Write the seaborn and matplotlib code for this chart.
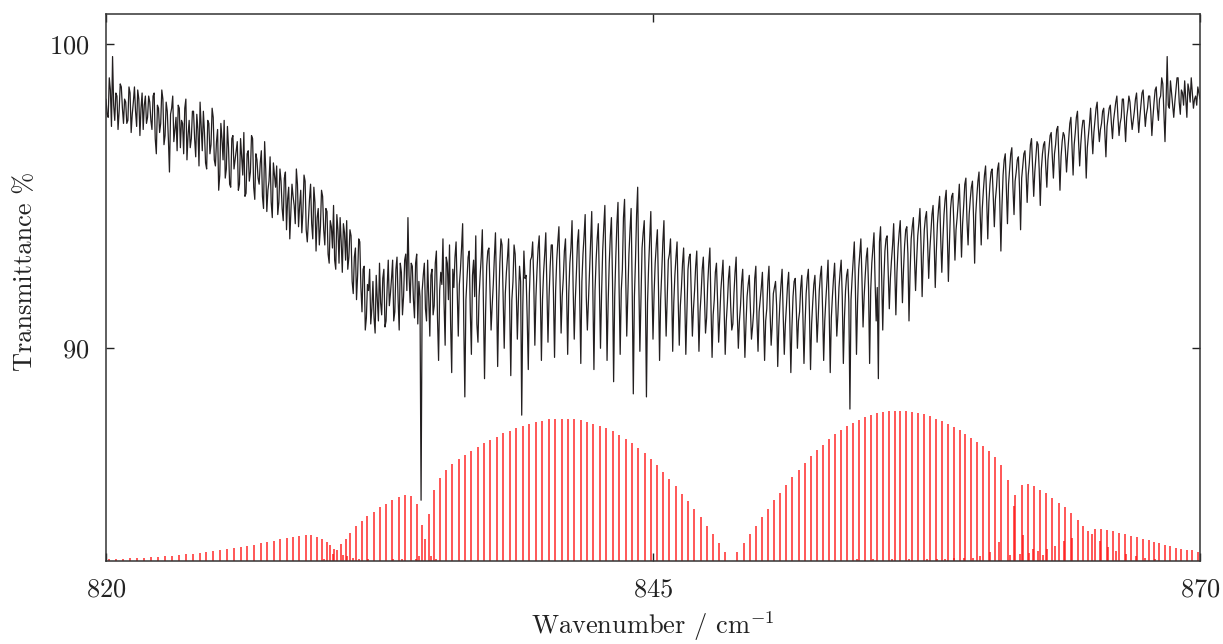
import numpy as np
import pandas as pd
import matplotlib
matplotlib.use("Agg")
import matplotlib.pyplot as plt
import seaborn as sns

# ---------------- data ----------------
wn_start, wn_stop, wn_step = 820.0, 870.0, 0.1

# transmittance read at 820.0, 820.1, ... 870.0
transmittance = [
    98.2, 97.6, 98.5, 99.6, 97.5, 98.3, 97.8, 98.6, 97.4, 98.1,
    97.5, 98.4, 97.7, 98.6, 97.3, 98.2, 97.9, 97.2, 98.3, 97.6,
    98.1, 97.2, 98.4, 96.4, 97.9, 97.4, 98.2, 97.0, 97.8, 95.8,
    97.9, 96.8, 97.6, 98.0, 96.6, 97.4, 97.9, 96.2, 97.5, 96.9,
    97.8, 96.3, 97.2, 98.1, 96.5, 97.1, 95.9, 97.4, 96.7, 97.6,
    96.0, 97.2, 95.7, 96.9, 97.5, 95.9, 96.6, 95.3, 97.0, 96.2,
    96.8, 95.4, 96.3, 97.1, 95.1, 96.5, 95.8, 96.9, 94.9, 96.2,
    95.4, 96.5, 94.6, 95.9, 95.2, 96.3, 94.3, 95.7, 96.0, 94.8,
    95.5, 94.2, 95.8, 94.9, 93.6, 95.4, 94.7, 95.9, 94.0, 95.2,
    94.5, 95.5, 93.5, 94.9, 94.1, 95.3, 93.2, 94.6, 94.0, 95.0,
    93.4, 94.5, 92.8, 94.0, 94.7, 92.6, 93.9, 94.3, 92.5, 93.8,
    94.2, 93.0, 93.7, 91.8, 93.3, 92.4, 93.5, 91.2, 92.7, 91.0,
    91.9, 90.8, 92.2, 90.5, 91.6, 92.8, 91.1, 92.6, 90.9, 92.9,
    91.8, 92.9, 91.2, 93.0, 90.6, 92.5, 91.7, 93.1, 94.3, 91.5,
    92.7, 91.0, 93.1, 92.2, 85.0, 92.4, 91.3, 92.9, 90.4, 92.6,
    91.4, 93.2, 89.6, 92.5, 93.6, 90.1, 92.8, 93.4, 89.2, 92.0,
    93.5, 90.4, 92.6, 94.1, 88.4, 92.3, 93.2, 89.8, 92.9, 93.7,
    90.2, 92.4, 93.9, 89.0, 92.7, 93.3, 90.6, 92.1, 93.8, 89.4,
    92.8, 93.4, 90.0, 92.5, 93.6, 89.1, 92.2, 93.1, 90.3, 92.7,
    87.8, 93.2, 92.4, 89.3, 92.9, 93.5, 90.1, 92.6, 93.7, 89.6,
    92.5, 93.8, 90.2, 92.7, 93.4, 89.7, 92.9, 94.0, 90.5, 92.3,
    93.6, 89.8, 92.8, 94.2, 90.3, 92.5, 93.9, 89.5, 93.1, 94.4,
    90.6, 92.7, 94.5, 89.3, 92.9, 94.1, 90.0, 93.2, 94.7, 89.6,
    92.8, 94.3, 88.9, 93.0, 94.8, 89.8, 92.6, 94.9, 90.4, 93.1,
    94.6, 88.5, 92.9, 95.3, 89.9, 93.3, 94.2, 88.4, 92.7, 94.5,
    90.3, 92.8, 93.9, 89.6, 92.5, 94.2, 90.4, 92.9, 93.6, 89.9,
    92.4, 93.5, 90.1, 92.0, 93.3, 89.8, 92.6, 93.1, 90.4, 91.9,
    93.2, 89.9, 91.8, 93.0, 90.5, 92.1, 93.3, 89.7, 91.6, 92.8,
    90.2, 91.9, 92.9, 89.8, 91.5, 92.7, 90.6, 91.8, 93.0, 90.0,
    91.4, 92.6, 89.7, 91.7, 92.4, 90.3, 91.2, 92.7, 89.9, 91.6,
    92.5, 89.6, 91.3, 92.7, 90.1, 91.8, 92.2, 89.4, 91.5, 92.6,
    89.8, 91.4, 92.5, 89.2, 91.7, 92.3, 90.0, 91.2, 92.4, 89.5,
    91.8, 92.6, 89.3, 91.5, 92.4, 90.2, 91.9, 92.7, 89.6, 91.6,
    92.9, 89.2, 91.7, 92.8, 90.4, 92.0, 92.9, 89.5, 91.9, 92.6,
    88.0, 92.3, 93.5, 89.8, 92.6, 93.6, 90.7, 92.4, 93.3, 89.5,
    92.8, 93.8, 90.9, 89.0, 94.0, 90.6, 93.2, 93.7, 91.3, 92.9,
    94.1, 91.1, 93.3, 94.2, 91.5, 93.4, 94.0, 90.9, 93.6, 94.3,
    91.9, 93.7, 94.6, 91.7, 93.9, 94.5, 92.3, 93.8, 94.7, 92.0,
    94.1, 95.0, 92.5, 94.4, 95.2, 92.2, 94.6, 95.1, 92.9, 94.3,
    95.4, 93.0, 94.7, 95.6, 93.4, 94.9, 95.5, 92.8, 95.0, 95.8,
    93.4, 95.2, 96.0, 93.6, 95.4, 95.9, 94.0, 95.3, 96.1, 93.2,
    95.7, 96.4, 94.1, 95.9, 96.6, 94.4, 95.8, 96.3, 93.9, 96.0,
    96.5, 94.8, 96.1, 96.9, 95.0, 96.3, 96.7, 94.7, 96.4, 96.8,
    95.3, 96.6, 97.1, 95.6, 96.7, 97.3, 95.2, 96.8, 97.0, 95.8,
    96.9, 97.6, 95.7, 97.1, 97.8, 96.0, 97.2, 97.5, 95.6, 97.0,
    97.9, 96.4, 97.5, 98.1, 96.8, 97.4, 97.9, 96.3, 97.6, 98.0,
    96.9, 97.8, 98.3, 97.0, 97.6, 98.2, 96.8, 97.9, 98.1, 97.2,
    97.8, 98.4, 97.1, 98.0, 98.5, 97.3, 97.9, 98.3, 97.0, 98.1,
    98.6, 97.5, 98.3, 98.7, 96.8, 99.6, 97.9, 98.4, 97.6, 98.5,
    98.9, 97.7, 98.4, 98.8, 97.6, 98.5, 98.9, 97.9, 98.3, 98.6,
    98.2,
]

# transmittance read halfway between, at 820.05, 820.15, ... 869.95
transmittance_mid = [
    97.7, 98.9, 97.3, 98.0, 98.4, 97.2, 98.7, 97.9, 98.2, 97.4,
    98.6, 97.1, 98.1, 97.8, 98.5, 97.0, 98.4, 98.0, 97.4, 98.3,
    97.5, 98.3, 96.9, 98.0, 97.1, 98.5, 96.7, 98.1, 96.9, 97.7,
    98.3, 97.2, 96.5, 97.9, 97.5, 96.4, 98.2, 97.0, 96.6, 97.8,
    96.9, 97.7, 96.0, 97.3, 97.8, 96.1, 97.5, 96.4, 97.9, 96.2,
    96.8, 95.2, 97.4, 96.2, 95.6, 97.3, 95.4, 96.9, 95.9, 96.5,
    95.2, 96.9, 95.7, 95.0, 96.4, 95.5, 97.0, 95.3, 96.4, 95.6,
    96.1, 95.0, 96.8, 94.5, 95.5, 94.8, 96.1, 95.3, 94.4, 95.9,
    94.6, 95.6, 93.9, 95.3, 94.5, 95.0, 94.1, 95.4, 94.7, 93.8,
    95.7, 93.9, 94.2, 95.4, 93.6, 94.8, 94.3, 93.4, 95.2, 93.9,
    94.6, 93.1, 94.2, 93.3, 92.9, 94.4, 92.8, 93.5, 94.1, 92.9,
    92.6, 93.9, 92.2, 93.0, 91.6, 93.6, 92.0, 92.6, 90.6, 92.1,
    92.6, 91.3, 91.0, 92.4, 90.9, 91.5, 92.3, 90.7, 92.0, 91.4,
    92.3, 90.9, 92.6, 91.6, 92.8, 91.1, 92.9, 91.9, 92.4, 92.8,
    91.6, 92.8, 90.8, 91.7, 91.9, 92.8, 90.9, 91.7, 92.4, 91.1,
    92.8, 91.0, 91.9, 92.1, 91.5, 93.0, 91.6, 90.8, 92.6, 93.0,
    91.9, 92.1, 93.3, 90.9, 91.6, 93.0, 91.2, 92.4, 91.7, 90.8,
    91.7, 93.0, 91.5, 91.2, 93.2, 92.0, 91.4, 93.0, 91.8, 91.5,
    93.6, 91.7, 91.8, 93.0, 91.3, 91.6, 93.4, 91.9, 91.6, 92.2,
    91.4, 92.3, 91.0, 91.8, 93.0, 92.2, 91.7, 93.3, 91.9, 91.6,
    93.1, 92.0, 91.7, 93.4, 91.8, 91.9, 93.5, 92.3, 91.7, 93.2,
    91.9, 91.8, 93.3, 92.0, 91.6, 93.5, 91.8, 92.2, 93.7, 91.7,
    91.6, 93.6, 92.0, 91.9, 93.6, 92.1, 91.8, 94.0, 92.3, 91.5,
    93.7, 92.2, 91.7, 94.1, 92.0, 91.9, 94.3, 92.5, 91.8, 93.9,
    91.9, 91.7, 94.4, 92.3, 91.6, 93.8, 92.0, 91.5, 93.6, 92.2,
    91.8, 93.4, 92.0, 91.6, 93.5, 91.9, 91.7, 93.1, 92.1, 91.5,
    93.0, 91.6, 91.4, 92.8, 91.7, 91.2, 93.0, 91.8, 91.3, 92.7,
    91.5, 91.2, 92.6, 91.7, 91.0, 92.8, 91.4, 91.1, 92.5, 91.6,
    91.0, 92.4, 91.3, 90.9, 92.3, 91.4, 90.8, 92.5, 91.2, 90.9,
    92.2, 91.1, 90.8, 92.1, 91.3, 90.7, 92.3, 91.0, 91.2, 92.0,
    91.0, 90.9, 92.2, 91.2, 90.8, 92.0, 91.4, 90.7, 92.1, 91.1,
    90.8, 92.1, 91.0, 90.7, 92.2, 91.3, 90.9, 92.0, 91.1, 90.8,
    92.3, 91.2, 90.8, 92.1, 91.4, 91.0, 92.4, 91.3, 90.9, 92.2,
    91.3, 91.0, 92.3, 91.6, 91.1, 92.5, 91.7, 91.0, 92.4, 91.5,
    91.6, 92.9, 92.0, 91.5, 93.1, 92.3, 91.7, 93.0, 92.0, 91.9,
    93.3, 92.2, 92.0, 93.5, 92.4, 92.2, 93.6, 92.5, 92.3, 93.4,
    92.6, 92.5, 93.8, 92.9, 92.6, 93.9, 93.1, 92.5, 94.0, 93.0,
    92.9, 94.1, 93.4, 93.0, 94.3, 93.5, 93.2, 94.4, 93.5, 93.2,
    94.6, 93.6, 93.6, 94.9, 93.8, 93.5, 95.0, 94.1, 93.9, 94.8,
    94.3, 94.1, 95.4, 94.2, 94.4, 95.3, 94.3, 94.4, 95.5, 94.5,
    94.6, 95.7, 94.9, 94.8, 95.8, 95.0, 94.9, 95.9, 94.8, 94.7,
    96.2, 95.2, 95.4, 96.4, 95.3, 95.5, 96.2, 95.3, 95.6, 96.4,
    95.8, 95.7, 96.7, 95.9, 95.8, 96.8, 95.9, 95.9, 96.7, 96.0,
    96.2, 97.0, 96.3, 96.4, 97.2, 96.3, 96.3, 97.1, 96.5, 96.4,
    97.4, 96.6, 96.7, 97.6, 96.8, 96.7, 97.5, 96.8, 96.6, 97.4,
    97.1, 97.1, 97.9, 97.3, 97.2, 97.8, 97.1, 97.3, 97.9, 97.4,
    97.5, 98.1, 97.6, 97.4, 98.2, 97.5, 97.6, 98.3, 97.6, 97.5,
    98.2, 97.7, 97.6, 98.4, 97.9, 97.7, 98.3, 97.8, 97.6, 98.5,
    97.9, 98.2, 98.9, 97.7, 98.1, 98.0, 98.8, 98.0, 98.1, 98.9,
    98.1, 98.5, 98.0, 98.2, 98.7, 98.1, 98.4, 98.2, 98.0, 98.4,
]

# simulated stick spectrum (main band): positions / cm^-1 and intensities (% units)
stick_pos = [
    820.14, 820.46, 820.78, 821.10, 821.42, 821.74, 822.06, 822.38, 822.70, 823.02,
    823.32, 823.64, 823.96, 824.28, 824.58, 824.90, 825.22, 825.53, 825.85, 826.16,
    826.44, 826.76, 827.07, 827.36, 827.66, 827.97, 828.26, 828.55, 828.83, 829.13,
    829.38, 829.64, 829.87, 830.09, 830.25, 830.43, 830.56, 830.73, 830.96, 831.17,
    831.43, 831.69, 831.94, 832.24, 832.52, 832.80, 833.09, 833.38, 833.67, 833.94,
    834.21, 834.44, 834.58, 834.76, 834.99, 835.25, 835.53, 835.81, 836.12, 836.39,
    836.70, 836.99, 837.28, 837.57, 837.87, 838.16, 838.46, 838.75, 839.04, 839.35,
    839.64, 839.94, 840.23, 840.52, 840.83, 841.10, 841.39, 841.69, 841.98, 842.27,
    842.58, 842.87, 843.16, 843.45, 843.75, 844.04, 844.33, 844.62, 844.91, 845.18,
    845.46, 845.75, 846.04, 846.31, 846.60, 846.89, 847.18, 847.45, 847.74, 848.02,
    848.30, 848.85, 849.15, 849.43, 849.71, 849.99, 850.26, 850.53, 850.80, 851.08,
    851.37, 851.66, 851.93, 852.21, 852.48, 852.76, 853.03, 853.30, 853.58, 853.85,
    854.13, 854.40, 854.68, 854.95, 855.22, 855.50, 855.77, 856.05, 856.30, 856.58,
    856.85, 857.11, 857.39, 857.66, 857.92, 858.19, 858.47, 858.74, 859.02, 859.27,
    859.53, 859.81, 860.07, 860.34, 860.62, 860.89, 861.21, 861.56, 861.87, 862.14,
    862.43, 862.70, 862.98, 863.25, 863.54, 863.82, 864.10, 864.41, 864.67, 864.88,
    865.06, 865.20, 865.48, 865.76, 866.04, 866.31, 866.59, 866.86, 867.13, 867.39,
    867.66, 867.90, 868.14, 868.40, 868.64, 868.90, 869.15, 869.39, 869.63, 869.89,
]
stick_int = [
    0.056, 0.066, 0.079, 0.089, 0.099, 0.112, 0.122, 0.145, 0.155, 0.178,
    0.188, 0.220, 0.243, 0.263, 0.286, 0.319, 0.352, 0.385, 0.418, 0.451,
    0.493, 0.539, 0.582, 0.615, 0.671, 0.714, 0.757, 0.803, 0.836, 0.845,
    0.845, 0.803, 0.724, 0.625, 0.516, 0.408, 0.352, 0.549, 0.737, 0.934,
    1.141, 1.306, 1.470, 1.625, 1.766, 1.888, 2.007, 2.118, 2.171, 2.151,
    1.875, 1.197, 0.737, 1.559, 2.326, 2.743, 3.007, 3.191, 3.345, 3.487,
    3.632, 3.750, 3.872, 3.993, 4.092, 4.201, 4.276, 4.365, 4.441, 4.520,
    4.572, 4.618, 4.661, 4.684, 4.684, 4.684, 4.661, 4.628, 4.585, 4.520,
    4.454, 4.365, 4.266, 4.145, 4.026, 3.872, 3.707, 3.543, 3.345, 3.148,
    2.928, 2.711, 2.467, 2.217, 1.964, 1.701, 1.438, 1.151, 0.878, 0.582,
    0.286, 0.286, 0.582, 0.878, 1.164, 1.447, 1.724, 1.997, 2.250, 2.513,
    2.763, 3.007, 3.224, 3.444, 3.641, 3.829, 4.003, 4.168, 4.299, 4.431,
    4.553, 4.651, 4.737, 4.816, 4.868, 4.914, 4.934, 4.947, 4.947, 4.934,
    4.901, 4.868, 4.826, 4.760, 4.684, 4.605, 4.507, 4.421, 4.299, 4.191,
    4.059, 3.928, 3.783, 3.618, 3.411, 3.148, 2.678, 2.161, 2.490, 2.533,
    2.467, 2.349, 2.227, 2.086, 1.921, 1.776, 1.569, 1.362, 1.141, 0.977,
    0.878, 1.043, 1.043, 1.020, 0.977, 0.934, 0.888, 0.836, 0.780, 0.724,
    0.681, 0.625, 0.582, 0.526, 0.484, 0.441, 0.408, 0.375, 0.352, 0.309,
]

# weaker (hot-band / isotopologue) sticks
minor_pos = [
    829.96, 830.39, 830.85, 831.03, 831.30, 831.58, 831.99, 833.13, 833.51, 834.17,
    834.32, 834.85, 835.08, 854.31, 854.69, 855.07, 855.91, 856.71, 857.52, 857.97,
    858.35, 858.77, 859.21, 859.61, 859.95, 860.40, 860.80, 861.32, 861.51, 861.76,
    861.92, 862.20, 862.35, 862.60, 862.81, 863.02, 863.39, 863.78, 864.15, 865.42,
    865.80, 866.18, 866.63, 867.06, 867.49, 867.94,
]
minor_int = [
    0.079, 0.243, 0.188, 0.155, 0.099, 0.078, 0.066, 0.056, 0.056, 0.056,
    0.165, 0.165, 0.056, 0.056, 0.046, 0.056, 0.056, 0.066, 0.079, 0.079,
    0.079, 0.099, 0.112, 0.112, 0.165, 0.300, 0.638, 0.188, 1.809, 0.220,
    0.855, 0.253, 0.385, 0.330, 0.200, 0.385, 0.493, 0.658, 0.757, 0.658,
    0.474, 0.330, 0.220, 0.165, 0.112, 0.079,
]

x_ticks = [820, 845, 870]
y_ticks = [90, 100]
x_label = "Wavenumber / cm$^{-1}$"
y_label = "Transmittance %"

# ---------------- style ----------------
sns.set_theme(style="ticks")
plt.rcParams.update({
    "font.family": "serif",
    "font.serif": ["cmr10"],
    "mathtext.fontset": "cm",
    "axes.unicode_minus": False,
    "axes.formatter.use_mathtext": True,
})

W, H = 1223, 644
fig = plt.figure(figsize=(W / 100, H / 100), dpi=100)
ax = fig.add_axes([106 / W, 1 - 561 / H, 1094 / W, 547 / H])

y_bottom, y_top = 83.0, 101.0
ax.set_xlim(820, 870)
ax.set_ylim(y_bottom, y_top)

# red stick spectrum drawn from the bottom of the axes
ax.vlines(stick_pos, y_bottom, y_bottom + np.asarray(stick_int),
          colors="#ff1111", linewidth=1.1, alpha=0.9, zorder=1)
ax.vlines(minor_pos, y_bottom, y_bottom + np.asarray(minor_int),
          colors="#ff1111", linewidth=1.1, alpha=0.9, zorder=1)

grid = np.round(np.arange(wn_start, wn_stop + wn_step / 2, wn_step), 2)
df = pd.concat([
    pd.DataFrame({"wavenumber": grid, "T": transmittance}),
    pd.DataFrame({"wavenumber": np.round(grid[:-1] + wn_step / 2, 3),
                  "T": transmittance_mid}),
]).sort_values("wavenumber")
sns.lineplot(data=df, x="wavenumber", y="T", ax=ax, color="#231f20",
             linewidth=0.9, estimator=None, sort=False, zorder=2)

ax.set_xticks(x_ticks)
ax.set_yticks(y_ticks)
ax.tick_params(direction="in", length=6, width=1, top=True, right=True,
               labelsize=19, colors="#222222")
ax.tick_params(axis="x", pad=12)
ax.tick_params(axis="y", pad=12)
for s in ax.spines.values():
    s.set_linewidth(1.1)
    s.set_color("#333333")

ax.set_xlabel(x_label, fontsize=19, color="#222222")
ax.set_ylabel(y_label, fontsize=19, color="#222222")
ax.xaxis.set_label_coords(0.5, -0.089)
ax.yaxis.set_label_coords(-0.063, 0.53)

fig.savefig("out.png", dpi=100)
